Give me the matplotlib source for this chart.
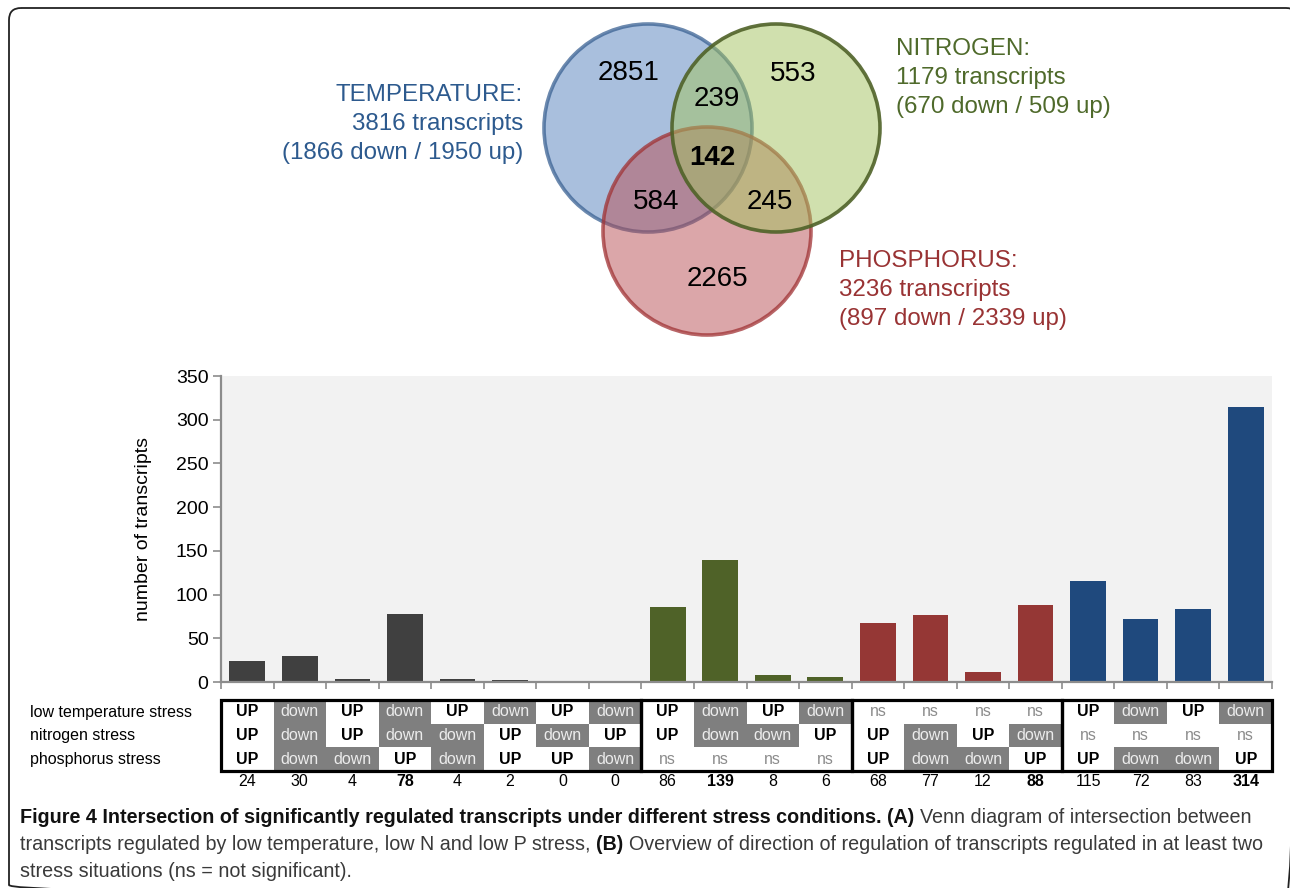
import numpy as np
import matplotlib.pyplot as plt
from matplotlib.patches import Circle, Rectangle, FancyBboxPatch
from matplotlib import font_manager

plt.rcParams['font.family'] = ['Liberation Sans', 'DejaVu Sans']

W, H = 1290, 888

## Venn data
venn_labels = ['2851', '553', '2265', '239', '584', '245', '142']
venn_names = ['TEMPERATURE:', 'NITROGEN:', 'PHOSPHORUS:']
venn_totals = [3816, 1179, 3236]
venn_down = [1866, 670, 897]
venn_up = [1950, 509, 2339]

## bar + table data
counts = [24, 30, 4, 78, 4, 2, 0, 0, 86, 139, 8, 6, 68, 77, 12, 88, 115, 72, 83, 314]
count_bold = [0, 0, 0, 1, 0, 0, 0, 0, 0, 1, 0, 0, 0, 0, 0, 1, 0, 0, 0, 1]
group_sizes = [8, 4, 4, 4]
temp_reg = ['UP', 'down', 'UP', 'down', 'UP', 'down', 'UP', 'down',
            'UP', 'down', 'UP', 'down', 'ns', 'ns', 'ns', 'ns',
            'UP', 'down', 'UP', 'down']
nitro_reg = ['UP', 'down', 'UP', 'down', 'down', 'UP', 'down', 'UP',
             'UP', 'down', 'down', 'UP', 'UP', 'down', 'UP', 'down',
             'ns', 'ns', 'ns', 'ns']
phos_reg = ['UP', 'down', 'down', 'UP', 'down', 'UP', 'UP', 'down',
            'ns', 'ns', 'ns', 'ns', 'UP', 'down', 'down', 'UP',
            'UP', 'down', 'down', 'UP']
row_labels = ['low temperature stress', 'nitrogen stress', 'phosphorus stress']
yticks = [0, 50, 100, 150, 200, 250, 300, 350]

group_colors = ['#404040', '#4f6228', '#953735', '#1f497d']
venn_fill = ['#5580bd', '#a3c35f', '#b84e55']
venn_edge = ['#3b6293', '#4f6228', '#a03234']
venn_text = ['#2d5a8e', '#4f6a2b', '#993334']

fig = plt.figure(figsize=(W / 100, H / 100), dpi=100)

# pixel-space background axes
ax0 = fig.add_axes([0, 0, 1, 1])
ax0.set_xlim(0, W)
ax0.set_ylim(H, 0)
ax0.axis('off')
ax0.add_patch(FancyBboxPatch((9, 8), 1289, 889, boxstyle='round,pad=0,rounding_size=12',
                             fill=False, lw=1.3, ec='#222222'))

## Venn diagram
centers = [(648, 128), (776, 128), (707, 231)]
for k in [0, 2, 1]:
    ax0.add_patch(Circle(centers[k], 104, fc=venn_fill[k], alpha=0.5, lw=0))
    ax0.add_patch(Circle(centers[k], 104, fill=False, ec=venn_edge[k], lw=2.6,
                         alpha=0.9 if k == 1 else 0.75))
num_pos = [(629, 73), (793, 74), (717, 279), (717, 99), (656, 202), (770, 202), (712, 158)]
for i, lab in enumerate(venn_labels):
    ax0.text(num_pos[i][0], num_pos[i][1], lab, fontsize=20, ha='center', va='center',
             fontweight='bold' if i == 6 else 'normal', color='black')

name_pos = [(523, 95, 'right'), (896, 49, 'left'), (839, 261, 'left')]
for k in range(3):
    x, y, ha = name_pos[k]
    lines = [venn_names[k], '%d transcripts' % venn_totals[k],
             '(%d down / %d up)' % (venn_down[k], venn_up[k])]
    for j, s in enumerate(lines):
        ax0.text(x, y + 29 * j, s, fontsize=17.4, ha=ha, va='center', color=venn_text[k])

## bar chart
L, R = 221, 1272
ax = fig.add_axes([L / W, 1 - 682 / H, (R - L) / W, (682 - 376) / H])
ax.set_facecolor('#f2f2f2')
n = len(counts)
x = np.arange(n)
colors = []
for g, s in enumerate(group_sizes):
    colors += [group_colors[g]] * s
ax.bar(x, counts, width=0.68, color=colors)
ax.set_xlim(-0.5, n - 0.5)
ax.set_ylim(0, 350)
ax.set_yticks(yticks)
ax.tick_params(axis='y', labelsize=14, length=6, width=1.2, color='#8c8c8c', pad=3)
ax.set_xticks([])
ax.set_xticks(np.arange(n + 1) - 0.5, minor=True)
ax.tick_params(axis='x', which='minor', length=5, width=1.2, color='#8c8c8c', direction='out')
for sp in ['top', 'right']:
    ax.spines[sp].set_visible(False)
for sp in ['left', 'bottom']:
    ax.spines[sp].set_color('#8c8c8c')
    ax.spines[sp].set_linewidth(1.6)
ax.set_ylabel('number of transcripts', fontsize=14)
ax.yaxis.set_label_coords((152 - L) / (R - L), 0.5)

## table of regulation
fs = 11.5
axt = fig.add_axes([L / W, 1 - 771 / H, (R - L) / W, 71 / H])
axt.set_xlim(-0.5, n - 0.5)
axt.set_ylim(3, 0)
axt.axis('off')
for r, row in enumerate([temp_reg, nitro_reg, phos_reg]):
    for i, v in enumerate(row):
        if v == 'down':
            axt.add_patch(Rectangle((i - 0.5, r), 1, 1, fc='#7f7f7f', lw=0))
            axt.text(i, r + 0.5, v, ha='center', va='center', fontsize=fs, color='#ececec')
        elif v == 'UP':
            axt.text(i, r + 0.5, v, ha='center', va='center', fontsize=fs,
                     fontweight='bold', color='black')
        else:
            axt.text(i, r + 0.5, v, ha='center', va='center', fontsize=fs, color='#8c8c8c')
start = 0
for s in group_sizes:
    axt.add_patch(Rectangle((start - 0.5, 0), s, 3, fill=False, ec='black', lw=2.3,
                            clip_on=False))
    start += s
for i, c in enumerate(counts):
    axt.text(i, 3.45, str(c), ha='center', va='center', fontsize=fs,
             fontweight='bold' if count_bold[i] else 'normal', clip_on=False)
for r, lab in enumerate(row_labels):
    ax0.text(30, 712 + 23.6 * r, lab, ha='left', va='center', fontsize=fs)

## caption
names = {f.name for f in font_manager.fontManager.ttflist}
cap_font = 'Liberation Sans Narrow' if 'Liberation Sans Narrow' in names else 'Liberation Sans'
cap_lines = [
    [('Figure 4 Intersection of significantly regulated transcripts under different stress conditions.', True),
     ('(A)', True), ('Venn diagram of intersection between', False)],
    [('transcripts regulated by low temperature, low N and low P stress,', False),
     ('(B)', True), ('Overview of direction of regulation of transcripts regulated in at least two', False)],
    [('stress situations (ns = not significant).', False)],
]
rend = fig.canvas.get_renderer()


def width_of(s, size, bold):
    t = ax0.text(0, 0, s, fontsize=size, family=cap_font,
                 fontweight='bold' if bold else 'normal')
    w = t.get_window_extent(renderer=rend).width
    t.remove()
    return w


def line_width(parts, size):
    sp = width_of('x x', size, False) - width_of('xx', size, False)
    return sum(width_of(s, size, b) for s, b in parts) + sp * (len(parts) - 1)


base = 13
cap_size = base * 1225 / line_width(cap_lines[0], base)
space = width_of('x x', cap_size, False) - width_of('xx', cap_size, False)
for j, parts in enumerate(cap_lines):
    xx = 20
    for s, b in parts:
        t = ax0.text(xx, 817 + 27 * j, s, fontsize=cap_size, family=cap_font, va='center',
                     ha='left', fontweight='bold' if b else 'normal',
                     color='#111111' if b else '#3a3a3a')
        xx += t.get_window_extent(renderer=rend).width + space

fig.savefig('out.png', dpi=100)
